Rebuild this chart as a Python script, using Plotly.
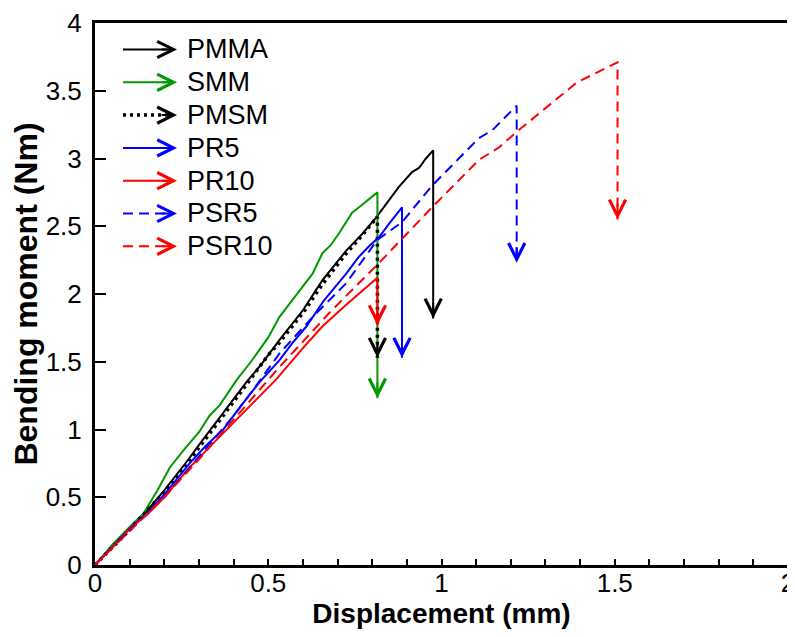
import plotly.graph_objects as go

# ---------------- data ----------------
pmma_x = [0, 0.03, 0.10, 0.15, 0.20, 0.264, 0.31, 0.37, 0.437, 0.48, 0.532, 0.60, 0.656, 0.725,
          0.77, 0.81, 0.845, 0.877, 0.915, 0.935, 0.955, 0.976, 0.976]
pmma_y = [0, 0.08, 0.27, 0.40, 0.55, 0.76, 0.92, 1.12, 1.35, 1.48, 1.66, 1.88, 2.10, 2.32,
          2.44, 2.56, 2.68, 2.79, 2.90, 2.93, 3.00, 3.06, 1.82]

smm_x = [0, 0.05, 0.10, 0.14, 0.18, 0.216, 0.26, 0.30, 0.33, 0.36, 0.41, 0.45, 0.50, 0.532,
         0.58, 0.628, 0.656, 0.68, 0.705, 0.742, 0.762, 0.815, 0.815]
smm_y = [0, 0.15, 0.28, 0.38, 0.55, 0.72, 0.86, 0.98, 1.10, 1.18, 1.37, 1.50, 1.68, 1.83,
         1.99, 2.15, 2.30, 2.36, 2.45, 2.60, 2.64, 2.75, 1.23]

pmsm_x = [0, 0.10, 0.20, 0.264, 0.31, 0.37, 0.437, 0.50, 0.532, 0.60, 0.656, 0.725, 0.77, 0.815, 0.815]
pmsm_y = [0, 0.26, 0.54, 0.74, 0.90, 1.10, 1.33, 1.55, 1.64, 1.86, 2.07, 2.30, 2.43, 2.57, 1.53]

pr5_x = [0, 0.05, 0.10, 0.15, 0.20, 0.273, 0.32, 0.37, 0.42, 0.475, 0.532, 0.57, 0.61, 0.66,
         0.725, 0.76, 0.79, 0.82, 0.849, 0.886, 0.886]
pr5_y = [0, 0.13, 0.27, 0.38, 0.52, 0.75, 0.88, 1.00, 1.17, 1.35, 1.51, 1.64, 1.76, 1.95,
         2.15, 2.27, 2.35, 2.42, 2.52, 2.64, 1.53]

pr10_x = [0, 0.05, 0.10, 0.15, 0.20, 0.273, 0.33, 0.388, 0.45, 0.523, 0.60, 0.656, 0.725, 0.77, 0.815, 0.815]
pr10_y = [0, 0.13, 0.27, 0.37, 0.50, 0.72, 0.87, 1.02, 1.18, 1.37, 1.60, 1.76, 1.92, 2.02, 2.12, 1.77]

psr5_x = [0, 0.10, 0.20, 0.30, 0.40, 0.45, 0.532, 0.628, 0.725, 0.815, 0.886, 0.973, 1.03,
          1.065, 1.108, 1.147, 1.186, 1.217, 1.217]
psr5_y = [0, 0.26, 0.50, 0.80, 1.10, 1.27, 1.56, 1.83, 2.08, 2.40, 2.53, 2.80, 2.95,
          3.04, 3.15, 3.21, 3.31, 3.39, 2.23]

psr10_x = [0, 0.10, 0.20, 0.30, 0.40, 0.532, 0.676, 0.82, 0.973, 1.108, 1.165, 1.223, 1.39, 1.508, 1.508]
psr10_y = [0, 0.25, 0.50, 0.78, 1.07, 1.46, 1.86, 2.23, 2.64, 2.99, 3.08, 3.21, 3.56, 3.71, 2.55]

names = ["PMMA", "SMM", "PMSM", "PR5", "PR10", "PSR5", "PSR10"]
xs = [pmma_x, smm_x, pmsm_x, pr5_x, pr10_x, psr5_x, psr10_x]
ys = [pmma_y, smm_y, pmsm_y, pr5_y, pr10_y, psr5_y, psr10_y]

x_ticks = [0, 0.5, 1, 1.5, 2]
y_ticks = [0, 0.5, 1, 1.5, 2, 2.5, 3, 3.5, 4]

# ---------------- styles ----------------
colors = ["#000000", "#009900", "#000000", "#0000FF", "#FF0000", "#0000FF", "#FF0000"]
dashes = ["solid", "solid", "3px,4px", "solid", "solid", "10px,6px", "10px,6px"]
widths = [2, 2, 3.5, 2, 2, 2, 2]

FONT = "Liberation Sans, Arial, sans-serif"
HEAD = dict(showarrow=True, text="", arrowhead=5, arrowsize=1.6, arrowwidth=2,
            font=dict(size=1), borderpad=0, axref="pixel", ayref="pixel")

fig = go.Figure()
annotations = []
shapes = []

for name, x, y, c, d, w in zip(names, xs, ys, colors, dashes, widths):
    fig.add_trace(go.Scatter(x=x, y=y, mode="lines", name=name, showlegend=False,
                             line=dict(color=c, width=w, dash=d)))
    # arrowhead at the end of the drop
    annotations.append(dict(x=x[-1], y=y[-1], xref="x", yref="y", ax=0, ay=-16,
                            arrowcolor=c, **HEAD))

# manual legend (line + arrowhead + label); positions given in page pixels of the plot area
plot_left, plot_top, plot_w, plot_h = 95.0, 23.0, 693.0, 542.0
def px2paper(px, py):
    return (px - plot_left) / plot_w, (plot_top + plot_h - py) / plot_h

for i, (name, c, d, w) in enumerate(zip(names, colors, dashes, widths)):
    py = 49.5 + 32.8 * i
    x0, yy = px2paper(123, py)
    x1, _ = px2paper(168, py)
    xt, _ = px2paper(177, py)
    xl, _ = px2paper(185, py)
    shapes.append(dict(type="line", xref="paper", yref="paper", x0=x0, x1=x1, y0=yy, y1=yy,
                       line=dict(color=c, width=w, dash=d)))
    annotations.append(dict(x=xt, y=yy, xref="paper", yref="paper", ax=-16, ay=0,
                            arrowcolor=c, **HEAD))
    annotations.append(dict(x=xl, y=yy, xref="paper", yref="paper", text=name, showarrow=False,
                            xanchor="left", yanchor="middle",
                            font=dict(family=FONT, size=27, color="black")))

# the page body has an 8px margin, so the figure is offset by 8px
fig.update_layout(
    width=795, height=629,
    margin=dict(l=87, r=15, t=15, b=72),
    paper_bgcolor="white", plot_bgcolor="white",
    font=dict(family=FONT, color="black"),
    annotations=annotations, shapes=shapes,
    showlegend=False,
)
fig.update_xaxes(range=[0, 2], tickvals=x_ticks, ticktext=[str(v) for v in x_ticks],
                 ticks="inside", ticklen=6, tickwidth=1.5, tickcolor="black",
                 minor=dict(dtick=0.1, tick0=0, ticks="inside", ticklen=6, tickwidth=1.5, tickcolor="black"),
                 showline=True, linewidth=3, linecolor="black", mirror=True,
                 showgrid=False, zeroline=False, tickfont=dict(size=26, family=FONT),
                 ticklabelstandoff=-7, ticklabeloverflow="allow",
                 title=dict(text="Displacement (mm)", standoff=4,
                            font=dict(size=28, family=FONT, weight="bold")),
                 automargin=False)
fig.update_yaxes(range=[0, 4], tickvals=y_ticks, ticktext=[str(v) for v in y_ticks],
                 ticks="inside", ticklen=11, tickwidth=1.5, tickcolor="black",
                 showline=True, linewidth=3, linecolor="black", mirror=True,
                 showgrid=False, zeroline=False, tickfont=dict(size=26, family=FONT),
                 ticklabelstandoff=5, ticklabeloverflow="allow",
                 title=dict(text="Bending moment (Nm)", standoff=3,
                            font=dict(size=32, family=FONT, weight="bold")),
                 automargin=False)

fig.write_html("out.html")
